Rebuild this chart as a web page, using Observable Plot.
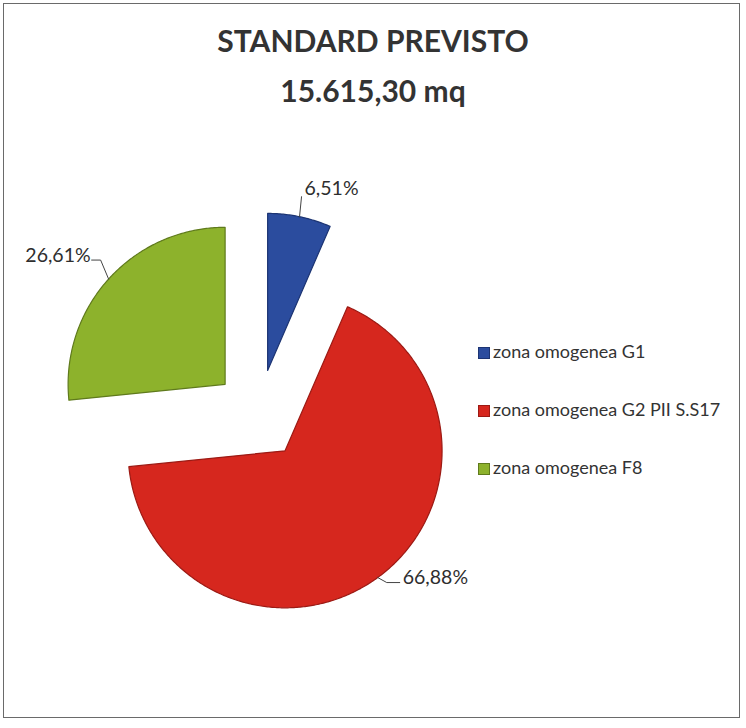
<!DOCTYPE html>
<html>
<head>
<meta charset="utf-8">
<script src="https://cdn.jsdelivr.net/npm/d3@7"></script>
<script src="https://cdn.jsdelivr.net/npm/@observablehq/plot@0.6"></script>
<style>
  html, body { margin: 0; padding: 0; background: #fff; }
  #frame { position: relative; width: 746px; height: 728px; font-family: Lato, "Open Sans", sans-serif; color: #333; }
  #border { position: absolute; left: 3px; top: 3px; width: 737px; height: 715px; border: 1.5px solid #6a6a6a; box-sizing: border-box; }
  #title { position: absolute; left: 0; top: 15px; width: 746px; text-align: center; font-weight: 700; font-size: 30px; line-height: 50px; color: #333; }
  #chart { position: absolute; left: 0; top: 130px; }
  #legend { position: absolute; left: 478px; top: 338px; font-size: 18px; color: #333; }
  .item { height: 26px; line-height: 26px; margin-bottom: 32px; white-space: nowrap; }
  .sw { display: inline-block; width: 10px; height: 10px; margin-right: 3px; vertical-align: -1px; }
</style>
</head>
<body>
<div id="frame">
  <div id="border"></div>
  <div id="title"></div>
  <div id="chart"></div>
  <div id="legend"></div>
</div>
<script>
// ---- data ----
const titleLines = ["STANDARD PREVISTO", "15.615,30 mq"];
const categories = ["zona omogenea G1", "zona omogenea G2 PII S.S17", "zona omogenea F8"];
const values = [6.51, 66.88, 26.61];
const labels = ["6,51%", "66,88%", "26,61%"];
const colors = ["#2b4c9e", "#d6271e", "#8db22c"];
const edgeColors = ["#1c3473", "#9c1a14", "#5f7a1c"];

// ---- layout ----
const W = 746, H = 510;
const CX = 258, CY = 284, R = 157, EXPLODE = 45;
// label placement relative to the arc midpoint of each slice
const labelLayout = [
  { path: [[2, -20]], text: [5, -28], anchor: "start" },
  { path: [[9, 5], [22, 5]], text: [25, 0], anchor: "start" },
  { path: [[-8, -19], [-17, -19]], text: [-18, -23], anchor: "end" }
];

document.getElementById("title").innerHTML = titleLines.map(t => `<div>${t}</div>`).join("");

const arcs = d3.pie().sort(null).value(d => d)(values);
const rows = [];
const leaders = [];
const texts = [];
arcs.forEach((a, i) => {
  const mid = (a.startAngle + a.endAngle) / 2;
  const ox = CX + EXPLODE * Math.sin(mid), oy = CY - EXPLODE * Math.cos(mid);
  rows.push({ i, x: ox, y: oy });
  const n = Math.max(2, Math.ceil((a.endAngle - a.startAngle) / 0.01));
  for (let k = 0; k <= n; k++) {
    const t = a.startAngle + (a.endAngle - a.startAngle) * k / n;
    rows.push({ i, x: ox + R * Math.sin(t), y: oy - R * Math.cos(t) });
  }
  rows.push({ i, x: ox, y: oy });
  const mx = ox + R * Math.sin(mid), my = oy - R * Math.cos(mid);
  const L = labelLayout[i];
  leaders.push({ i, x: mx, y: my });
  L.path.forEach(p => leaders.push({ i, x: mx + p[0], y: my + p[1] }));
  texts.push({ i, x: mx + L.text[0], y: my + L.text[1], label: labels[i], anchor: L.anchor });
});

const chart = Plot.plot({
  width: W, height: H,
  margin: 0,
  x: { domain: [0, W], range: [0, W], axis: null },
  y: { domain: [0, H], range: [0, H], axis: null },
  style: { fontFamily: "Lato, 'Open Sans', sans-serif", background: "transparent" },
  marks: [
    Plot.line(rows, { x: "x", y: "y", z: "i", fill: d => colors[d.i], stroke: d => edgeColors[d.i], strokeWidth: 1.2, curve: "linear" }),
    Plot.line(leaders, { x: "x", y: "y", z: "i", stroke: "#444", strokeWidth: 1 }),
    Plot.text(texts.filter(d => d.anchor === "start"), { x: "x", y: "y", text: "label", textAnchor: "start", fontSize: 19.5, fill: "#2e2e2e" }),
    Plot.text(texts.filter(d => d.anchor === "end"), { x: "x", y: "y", text: "label", textAnchor: "end", fontSize: 19.5, fill: "#2e2e2e" })
  ]
});
document.getElementById("chart").appendChild(chart);

document.getElementById("legend").innerHTML = categories.map((c, i) =>
  `<div class="item"><span class="sw" style="background:${colors[i]};border:1px solid ${edgeColors[i]}"></span>${c}</div>`
).join("");
</script>
</body>
</html>
